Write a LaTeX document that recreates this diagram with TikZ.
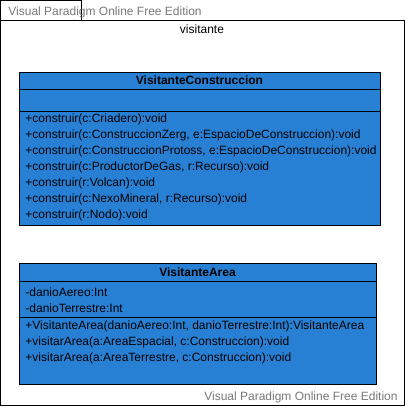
\documentclass[tikz,border=0pt]{standalone}
\usepackage{fontspec}
\setmainfont{Liberation Sans}
\definecolor{classblue}{RGB}{40,128,213}
\definecolor{wmgray}{RGB}{120,120,120}
\tikzset{
  member/.style={anchor=west, inner sep=0pt},
  classtitle/.style={inner sep=0pt, font=\fontsize{12}{14}\selectfont\bfseries},
  watermark/.style={inner sep=0pt, text=wmgray, font=\fontsize{12}{14}\selectfont},
}
\begin{document}
\begin{tikzpicture}[x=1pt, y=-1pt, line width=0.9pt, font=\fontsize{12}{14}\selectfont]
				\useasboundingbox (0,0) rectangle (405,407);
				\def\Lx{19}
				\def\Tx{25}
				
				% paquete
				\draw[fill=white] (0.5,0.5) rectangle (81,20);
				\draw[fill=white] (0.5,20) rectangle (404,405);
				\node[inner sep=0pt] (pkg) at (202,29) {visitante};
				\node[watermark, anchor=west] (wmtop) at (8,12) {Visual Paradigm Online Free Edition};
				\node[watermark, anchor=east] (wmbot) at (398,397) {Visual Paradigm Online Free Edition};
				
				% VisitanteConstruccion
				\draw[fill=classblue] (\Lx,72) rectangle (380,225);
				\draw (\Lx,89) -- (380,89);
				\draw (\Lx,111) -- (380,111);
				\node[classtitle] (vcname) at (199.5,80.5) {VisitanteConstruccion};
				\node[member] (vc1) at (\Tx,119) {+construir(c:Criadero):void};
				\node[member] (vc2) at (\Tx,135) {+construir(c:ConstruccionZerg, e:EspacioDeConstruccion):void};
				\node[member] (vc3) at (\Tx,151) {+construir(c:ConstruccionProtoss, e:EspacioDeConstruccion):void};
				\node[member] (vc4) at (\Tx,167) {+construir(c:ProductorDeGas, r:Recurso):void};
				\node[member] (vc5) at (\Tx,183) {+construir(r:Volcan):void};
				\node[member] (vc6) at (\Tx,199) {+construir(c:NexoMineral, r:Recurso):void};
				\node[member] (vc7) at (\Tx,215) {+construir(r:Nodo):void};
				
				% VisitanteArea
				\draw[fill=classblue] (\Lx,263) rectangle (376,384);
				\draw (\Lx,281) -- (376,281);
				\draw (\Lx,317) -- (376,317);
				\node[classtitle] (vaname) at (197.5,272) {VisitanteArea};
				\node[member] (va1) at (\Tx,292) {-danioAereo:Int};
				\node[member] (va2) at (\Tx,308) {-danioTerrestre:Int};
				\node[member] (va3) at (\Tx,326) {+VisitanteArea(danioAereo:Int, danioTerrestre:Int):VisitanteArea};
				\node[member] (va4) at (\Tx,342) {+visitarArea(a:AreaEspacial, c:Construccion):void};
				\node[member] (va5) at (\Tx,358) {+visitarArea(a:AreaTerrestre, c:Construccion):void};
			\end{tikzpicture}
\end{document}
